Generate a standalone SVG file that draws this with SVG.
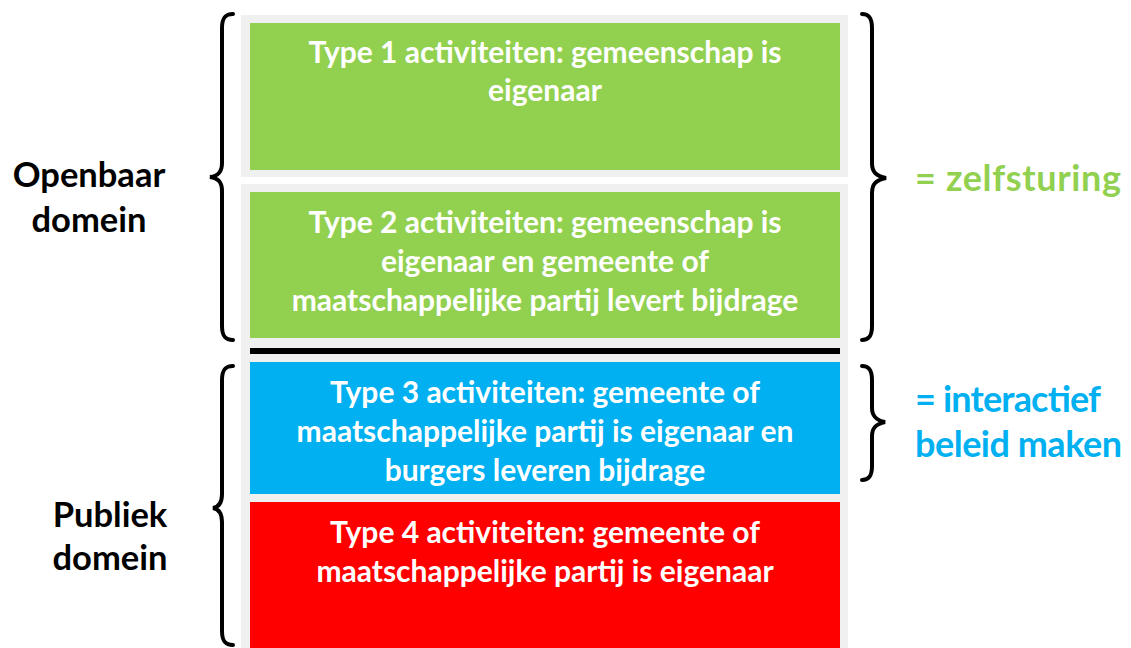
<svg xmlns="http://www.w3.org/2000/svg" width="1131" height="648" viewBox="0 0 1131 648">
<style>
.bt{font-family:Lato,"Open Sans",sans-serif;font-weight:700;font-size:30px;fill:#fff;text-anchor:middle}
.lbl{font-family:Lato,"Open Sans",sans-serif;font-weight:700;font-size:34.5px;fill:#000;text-anchor:middle}
.rt{font-family:Lato,"Open Sans",sans-serif;font-weight:700;font-size:36px}
.brace{fill:none;stroke:#000;stroke-width:4;stroke-linecap:round}
</style>
<rect width="1131" height="648" fill="#fff"/>
<g id="column">
<rect x="241" y="15" width="607" height="162" fill="#F0F0F0"/>
<rect x="241" y="184" width="607" height="464" fill="#F0F0F0"/>
</g>
<g id="type1">
<rect x="250" y="23" width="590" height="147" fill="#92D050"/>
<text class="bt" x="545" y="63">Type 1 activiteiten: gemeenschap is</text>
<text class="bt" x="545" y="101">eigenaar</text>
</g>
<g id="type2">
<rect x="250" y="192" width="590" height="146" fill="#92D050"/>
<text class="bt" x="545" y="233">Type 2 activiteiten: gemeenschap is</text>
<text class="bt" x="545" y="272">eigenaar en gemeente of</text>
<text class="bt" x="545" y="311">maatschappelijke partij levert bijdrage</text>
</g>
<g id="divider">
<rect x="250" y="348" width="590" height="6" fill="#000"/>
</g>
<g id="type3">
<rect x="250" y="362" width="590" height="132" fill="#00B0F0"/>
<text class="bt" x="545" y="403">Type 3 activiteiten: gemeente of</text>
<text class="bt" x="545" y="442">maatschappelijke partij is eigenaar en</text>
<text class="bt" x="545" y="481">burgers leveren bijdrage</text>
</g>
<g id="type4">
<rect x="250" y="502" width="590" height="146" fill="#FF0000"/>
<text class="bt" x="545" y="543">Type 4 activiteiten: gemeente of</text>
<text class="bt" x="545" y="582">maatschappelijke partij is eigenaar</text>
</g>
<g id="openbaar">
<text class="lbl" x="89" y="187">Openbaar</text>
<text class="lbl" x="89" y="232">domein</text>
</g>
<g id="publiek">
<text class="lbl" x="110" y="527">Publiek</text>
<text class="lbl" x="110" y="570">domein</text>
</g>
<g id="zelfsturing">
<text class="rt" x="915" y="191" fill="#92D050" textLength="206" lengthAdjust="spacing">= zelfsturing</text>
</g>
<g id="interactief">
<text class="rt" x="915" y="412" fill="#00B0F0" textLength="186" lengthAdjust="spacing">= interactief</text>
<text class="rt" x="915" y="457" fill="#00B0F0" textLength="207" lengthAdjust="spacing">beleid maken</text>
</g>
<g id="connectors">
<path class="brace" d="M233,14 C225,14 222,18 222,28 L222,163 C222,172 218,176 210,177 C218,178 222,182 222,191 L222,326 C222,336 225,340 233,340"/>
<path class="brace" d="M233,366 C225,366 222,370 222,380 L222,494 C222,503 219,507 213,508 C219,509 222,513 222,522 L222,631 C222,641 225,645 233,645"/>
<path class="brace" d="M862,14 C869,14 872,18 872,28 L872,163 C872,172 876,176 886,178 C876,180 872,184 872,193 L872,326 C872,336 869,340 862,340"/>
<path class="brace" d="M862,366 C869,366 872,370 872,380 L872,408 C872,416 876,420 885,422 C876,424 872,428 872,436 L872,466 C872,476 869,480 862,480"/>
</g>
</svg>
